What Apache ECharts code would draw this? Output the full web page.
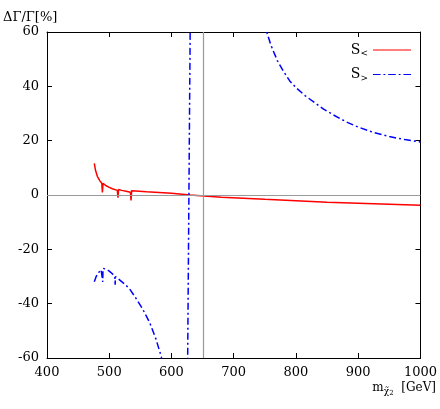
<!DOCTYPE html><html><head><meta charset="utf-8">
<script src="https://cdn.jsdelivr.net/npm/echarts@6/dist/echarts.min.js"></script>
<style>html,body{margin:0;padding:0;background:#fff}#c{width:440px;height:409px}</style></head><body><div id="c"></div>
<script>
const xTicks=[400,500,600,700,800,900,1000];
const yTicks=[-60,-40,-20,0,20,40,60];
const sLess=[[476,11.6],[478,9],[481,6.8],[485,5.2],[488,4.3],[489,0.9],[490,4.3],[495,3.4],[500,2.8],[505,2.3],[513,1.7],[514,-1],[515,2],[520,1.7],[527,1.4],[534,1.0],[535,-2],[536,1.6],[560,1.2],[600,0.6],[630,0],[680,-0.8],[750,-1.6],[850,-2.7],[1000,-3.8]];
const sGreater=[[476,-31.9],[479,-30],[483,-28.5],[487,-27.5],[489,-27],[489.5,-32],[490,-27],[495,-27.3],[500,-28],[505,-29],[509,-30],[509.5,-33],[510,-30],[518,-31.5],[526,-33],[534,-35],[540,-37],[547,-39.5],[553,-41.7],[559,-44.3],[565,-47],[570,-50],[575,-53],[579,-56],[583,-59],[590,-66],[600,-80],[615,-110],[622,-150],[626,-60],[628,0],[630,60],[634,150],[null,null],[740,80],[753,60],[760,55],[770,49.5],[780,45.5],[790,42],[800,39.5],[815,36.5],[830,34],[845,31.5],[860,29.5],[880,27],[900,25],[925,23],[950,21.5],[975,20.4],[1000,19.5]];
const vLine=651;
const F='"DejaVu Serif","Liberation Serif",serif';
const chart=echarts.init(document.getElementById('c'));
const axBase={axisLine:{show:true,onZero:false,lineStyle:{color:'#000',width:1}},splitLine:{show:false},axisTick:{inside:true,length:5,lineStyle:{color:'#000'}}};
chart.setOption({
 animation:false,
 grid:{left:44,right:19,top:32,bottom:51},
 legend:{right:24,top:38,orient:'vertical',itemWidth:38,itemHeight:10,itemGap:9,align:'right',
  textStyle:{fontFamily:F,fontSize:14,color:'#000',rich:{s:{fontSize:9,verticalAlign:'bottom',padding:[8,0,0,0]}}},
  formatter:n=>n==='S<'?'S{s|<}':'S{s|>}',
  data:[{name:'S<',icon:'path://M0,5L40,5L40,6L0,6Z'},{name:'S>',icon:'path://M0,5L8,5L8,6L0,6ZM11,5L13,5L13,6L11,6ZM16,5L24,5L24,6L16,6ZM27,5L29,5L29,6L27,6ZM32,5L40,5L40,6L32,6Z'}]},
 graphic:[{type:'text',right:4,top:382,style:{text:'m{s|χ̃}{t|2}  [GeV]',font:'12px '+F,fill:'#000',rich:{s:{fontSize:9,fontFamily:F,padding:[8,0,0,0]},t:{fontSize:7,fontFamily:F,padding:[10,0,0,0]}}}}],
 xAxis:[Object.assign({type:'value',min:400,max:1000,interval:100,position:'bottom',
   axisLabel:{fontFamily:F,fontSize:13,color:'#000',margin:8,formatter:v=>String(v)}},axBase),
  Object.assign({type:'value',min:400,max:1000,interval:100,position:'top',axisLabel:{show:false}},axBase)],
 yAxis:[Object.assign({type:'value',min:-60,max:60,interval:20,position:'left',
   axisLabel:{fontFamily:F,fontSize:13,color:'#000',margin:8},
   name:'ΔΓ/Γ[%]',nameLocation:'end',nameGap:8,
   nameTextStyle:{fontFamily:F,fontSize:13,color:'#000',align:'left',padding:[0,0,0,-44]}},axBase),
  Object.assign({type:'value',min:-60,max:60,interval:20,position:'right',axisLabel:{show:false}},axBase)],
 series:[
  {name:'S<',type:'line',data:sLess,showSymbol:false,clip:true,lineStyle:{color:'#ff0000',width:1.5},itemStyle:{color:'#ff0000'},
   markLine:{silent:true,symbol:'none',label:{show:false},lineStyle:{color:'#999',width:1.2,type:'solid'},data:[{yAxis:0},{xAxis:vLine}]}},
  {name:'S>',type:'line',data:sGreater,showSymbol:false,clip:true,connectNulls:false,lineStyle:{color:'#0000ff',width:1.5,type:[7,3,2,3]},itemStyle:{color:'#0000ff'}}
 ]
});
</script></body></html>
